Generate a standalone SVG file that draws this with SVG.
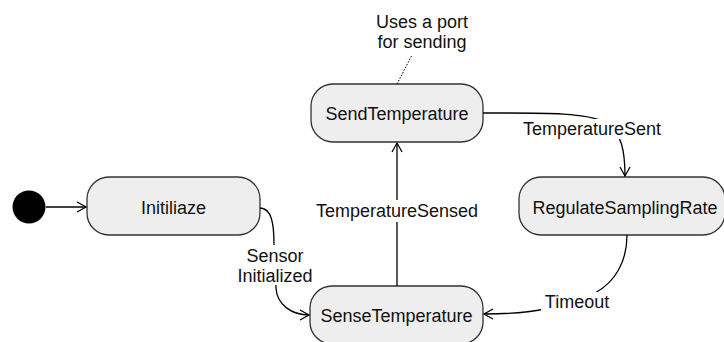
<svg xmlns="http://www.w3.org/2000/svg" width="724" height="342" viewBox="0 0 724 342">
  <defs>
    <marker id="open" markerWidth="12" markerHeight="12" refX="10" refY="6" orient="auto" markerUnits="userSpaceOnUse">
      <path d="M1,1 L10,6 L1,11" fill="none" stroke="#000" stroke-width="1.3"/>
    </marker>
    <style>
      .state { fill: #eeeeee; stroke: #333333; stroke-width: 1.3; }
      .label { font-family: "Liberation Sans", Arial, sans-serif; font-size: 18px; fill: #111; text-anchor: middle; }
      .edge { fill: none; stroke: #000; stroke-width: 1.3; }
      .bg { fill: #ffffff; }
    </style>
  </defs>
  <rect width="724" height="342" fill="#ffffff"/>

  <!-- states -->
  <g id="initial">
    <circle cx="29" cy="207" r="16.5" fill="#000"/>
  </g>
  <g id="initiliaze">
    <rect class="state" x="87" y="177" width="173" height="58" rx="22" ry="22"/>
    <text class="label" x="173.5" y="213.5">Initiliaze</text>
  </g>
  <g id="send-temperature">
    <rect class="state" x="311" y="84" width="172" height="58" rx="22" ry="22"/>
    <text class="label" x="397" y="119.5">SendTemperature</text>
  </g>
  <g id="regulate-sampling-rate">
    <rect class="state" x="519" y="177" width="206" height="58" rx="22" ry="22"/>
    <text class="label" x="625" y="213.5">RegulateSamplingRate</text>
  </g>
  <g id="sense-temperature">
    <rect class="state" x="310" y="286" width="173" height="58" rx="22" ry="22"/>
    <text class="label" x="396.5" y="321.5">SenseTemperature</text>
  </g>

  <!-- note -->
  <g id="note">
    <text class="label" x="422" y="28">Uses a port</text>
    <text class="label" x="422" y="48">for sending</text>
    <line x1="397" y1="84" x2="412" y2="55" stroke="#000" stroke-width="1" stroke-dasharray="1.5,1.5"/>
  </g>

  <!-- transitions -->
  <g id="connectors">
    <line class="edge" x1="46" y1="207" x2="86" y2="207" marker-end="url(#open)"/>

    <path class="edge" d="M260,208 C272,208 274,225 274,245 L276,288 C277,305 292,315 309,315" marker-end="url(#open)"/>
    <rect class="bg" x="232" y="245" width="88" height="40"/>
    <text class="label" x="275" y="261.5">Sensor</text>
    <text class="label" x="275" y="281.5">Initialized</text>

    <line class="edge" x1="397" y1="286" x2="397" y2="143" marker-end="url(#open)"/>
    <rect class="bg" x="314" y="200" width="166" height="22"/>
    <text class="label" x="397" y="217">TemperatureSensed</text>

    <path class="edge" d="M483,113 C540,113 585,112 605,122 C622,132 625,152 625,176" marker-end="url(#open)"/>
    <rect class="bg" x="516" y="119" width="152" height="20"/>
    <text class="label" x="592" y="135">TemperatureSent</text>

    <path class="edge" d="M627,235 C627,262 615,282 595,293 L545,309 C525,313 505,314 484,314" marker-end="url(#open)"/>
    <rect class="bg" x="541" y="292" width="72" height="20"/>
    <text class="label" x="577" y="308">Timeout</text>
  </g>
</svg>
